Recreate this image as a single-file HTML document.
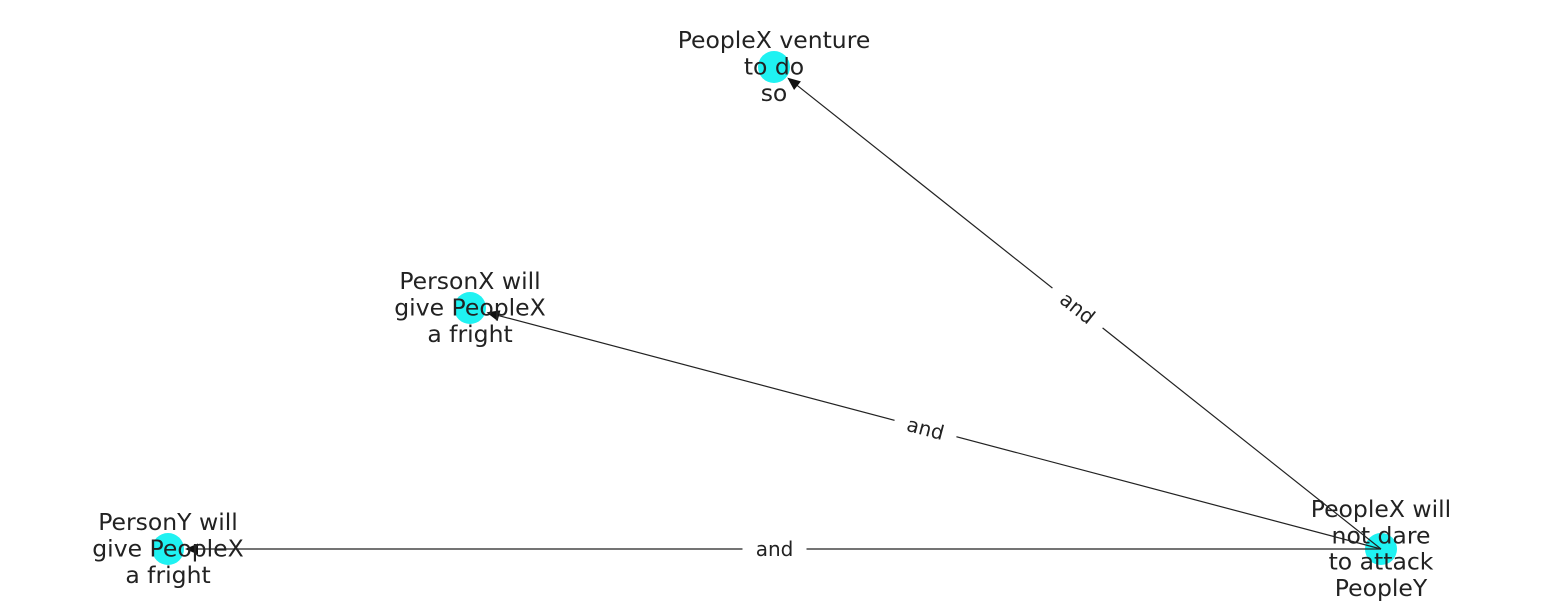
<!DOCTYPE html>
<html><head><meta charset="utf-8"><style>
html,body{margin:0;padding:0;background:#fff;}
svg{display:block;}
text{font-family:"DejaVu Sans","Liberation Sans",sans-serif;fill:#222;}
</style></head><body>
<svg id="g" width="1550" height="616" viewBox="0 0 1550 616"></svg>
<script>
const nodeIds = ["A","B","C","D"];
const nodeX = [774, 470, 168, 1381];
const nodeY = [67, 308, 549, 549];
const nodeLabels = [
  ["PeopleX venture","to do","so"],
  ["PersonX will","give PeopleX","a fright"],
  ["PersonY will","give PeopleX","a fright"],
  ["PeopleX will","not dare","to attack","PeopleY"]
];
const edgeFrom = ["D","D","D"];
const edgeTo = ["A","B","C"];
const edgeLabels = ["and","and","and"];

const svg = document.getElementById('g');
const NS = "http://www.w3.org/2000/svg";
const R = 16;
function mk(t, attrs){const e=document.createElementNS(NS,t);for(const k in attrs)e.setAttribute(k,attrs[k]);return e;}
function pos(id){const i=nodeIds.indexOf(id);return [nodeX[i],nodeY[i]];}

nodeIds.forEach((id,i)=>{
  const c = mk('circle',{cx:nodeX[i],cy:nodeY[i],r:R,fill:'#1ff2f2'});
  
  
  svg.appendChild(c);
});
edgeFrom.forEach((f,k)=>{
  const [x1,y1]=pos(f), [x2,y2]=pos(edgeTo[k]);
  const dx=x2-x1, dy=y2-y1, L=Math.hypot(dx,dy), ux=dx/L, uy=dy/L;
  const tx=x2-ux*(R+1), ty=y2-uy*(R+1);
  const line=mk('line',{x1:x1,y1:y1,x2:tx-ux*10,y2:ty-uy*10,stroke:'#222','stroke-width':1.2});
  
  
  svg.appendChild(line);
  const bx=tx-ux*13, by=ty-uy*13, px=-uy*5.5, py=ux*5.5;
  const arrow=mk('polygon',{points:`${tx},${ty} ${bx+px},${by+py} ${bx-px},${by-py}`,fill:'#111'});
  
  
  svg.appendChild(arrow);
  const mx=(x1+x2)/2, my=(y1+y2)/2;
  let ang=Math.atan2(dy,dx)*180/Math.PI; if(ang>90)ang-=180; if(ang<-90)ang+=180;
  const g=mk('g',{transform:`translate(${mx},${my}) rotate(${ang})`});
  
  
  g.appendChild(mk('rect',{x:-32,y:-13,width:64,height:26,fill:'#fff'}));
  const t=mk('text',{x:0,y:7,'text-anchor':'middle','font-size':20});
  t.textContent=edgeLabels[k];
  g.appendChild(t);
  svg.appendChild(g);
});
nodeIds.forEach((id,i)=>{
  const lines=nodeLabels[i], lh=26.3;
  const t=mk('text',{'text-anchor':'middle','font-size':23.5});
  
  
  const y0=nodeY[i]-(lines.length-1)*lh/2+7.5;
  lines.forEach((s,j)=>{const ts=mk('tspan',{x:nodeX[i],y:y0+j*lh});ts.textContent=s;t.appendChild(ts);});
  svg.appendChild(t);
});
</script>
</body></html>
